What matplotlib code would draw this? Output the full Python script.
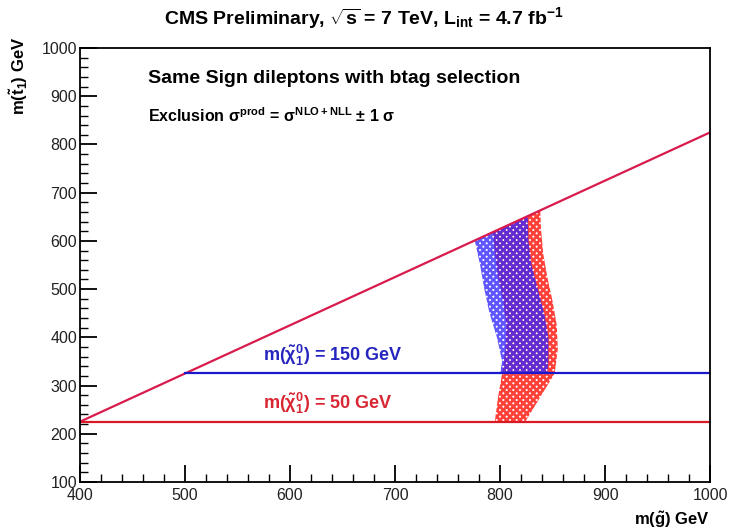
import matplotlib
matplotlib.use('Agg')
import matplotlib.pyplot as plt
from matplotlib.patches import Polygon
from matplotlib.ticker import MultipleLocator

# 轴范围
x_range = [400, 1000]
y_range = [100, 1000]

# 对角线 m(stop) = m(gluino) - m(top)
diag_x = [400, 1000]
diag_y = [225, 825]

# 两条水平线
lsp150_x = [500, 1000]
lsp150_y = [325, 325]
lsp50_x = [400, 1000]
lsp50_y = [225, 225]

# 红色带 (m(chi) = 50 GeV)
red_y = [225, 275, 325, 375, 425, 475, 525, 575, 625, 680]
red_left = [795, 798, 802, 805, 806, 803, 798, 795, 793, 792]
red_right = [824, 838, 852, 855, 854, 850, 845, 841, 839, 838]

# 蓝色带 (m(chi) = 150 GeV)
blue_y = [325, 350, 400, 450, 500, 550, 600, 680]
blue_left = [800, 802, 797, 790, 785, 781, 776, 773]
blue_right = [845, 846, 846, 842, 836, 830, 827, 826]

plt.rcParams['font.family'] = ['Liberation Sans', 'DejaVu Sans']
plt.rcParams['mathtext.fontset'] = 'custom'
plt.rcParams['mathtext.rm'] = 'Liberation Sans:bold'
plt.rcParams['mathtext.it'] = 'Liberation Sans:bold'
plt.rcParams['mathtext.bf'] = 'Liberation Sans:bold'
plt.rcParams['hatch.linewidth'] = 2.0

fig = plt.figure(figsize=(7.31, 5.31), dpi=100)
ax = fig.add_axes([0.1094, 0.0923, 0.862, 0.8173])

# 裁剪区域: 对角线以下
clip = Polygon([(400, 100), (1000, 100), (diag_x[1], diag_y[1]), (diag_x[0], diag_y[0])],
               closed=True, transform=ax.transData, facecolor='none', edgecolor='none')
ax.add_patch(clip)

red = ax.fill_betweenx(red_y, red_left, red_right, facecolor='none',
                       edgecolor=(1.0, 0.22, 0.18), hatch='xxxxx', linewidth=0, alpha=0.95)
red.set_clip_path(clip)
blue = ax.fill_betweenx(blue_y, blue_left, blue_right, facecolor='none',
                        edgecolor=(0.2, 0.15, 1.0), hatch='xxxxx', linewidth=0, alpha=0.78)
blue.set_clip_path(clip)

ax.plot(diag_x, diag_y, color=(0.85, 0.1, 0.3), lw=1.6)
ax.plot(lsp150_x, lsp150_y, color=(0.1, 0.1, 0.8), lw=1.6)
ax.plot(lsp50_x, lsp50_y, color=(0.85, 0.1, 0.15), lw=1.6)

ax.set_xlim(x_range)
ax.set_ylim(y_range)
ax.xaxis.set_major_locator(MultipleLocator(100))
ax.xaxis.set_minor_locator(MultipleLocator(20))
ax.yaxis.set_major_locator(MultipleLocator(100))
ax.yaxis.set_minor_locator(MultipleLocator(20))
ax.tick_params(which='major', direction='in', length=12, width=1.3, labelsize=11.5, colors='black')
ax.tick_params(which='minor', direction='in', length=6, width=1.0)
ax.tick_params(axis='x', pad=4)
ax.tick_params(axis='y', pad=2)
for lab in ax.get_xticklabels() + ax.get_yticklabels():
    lab.set_color('#222222')
for s in ax.spines.values():
    s.set_linewidth(1.3)

ax.text(574, 363, r'm($\tilde{\chi}^0_1$) = 150 GeV', color=(0.15, 0.15, 0.75),
        fontsize=13, fontweight='bold', va='center')
ax.text(574, 262, r'm($\tilde{\chi}^0_1$) = 50 GeV', color=(0.85, 0.15, 0.2),
        fontsize=13, fontweight='bold', va='center')

ax.text(0.108, 0.93, 'Same Sign dileptons with btag selection', transform=ax.transAxes,
        fontsize=14, fontweight='bold', va='center')
ax.text(0.108, 0.845, r'Exclusion $\sigma^{prod}$ = $\sigma^{NLO+NLL}$ $\pm$ 1 $\sigma$',
        transform=ax.transAxes, fontsize=11.5, fontweight='bold', va='center')

fig.text(0.497, 0.966, r'CMS Preliminary, $\sqrt{s}$ = 7 TeV, L$_{int}$ = 4.7 fb$^{-1}$',
         ha='center', va='center', fontsize=14, fontweight='bold')
fig.text(0.971, 0.022, r'm($\tilde{g}$) GeV', ha='right', va='center', fontsize=12, fontweight='bold')
fig.text(0.025, 0.93, r'm($\tilde{t}_1$) GeV', ha='center', va='top', fontsize=12,
         fontweight='bold', rotation=90)

fig.savefig('out.png', dpi=100)
